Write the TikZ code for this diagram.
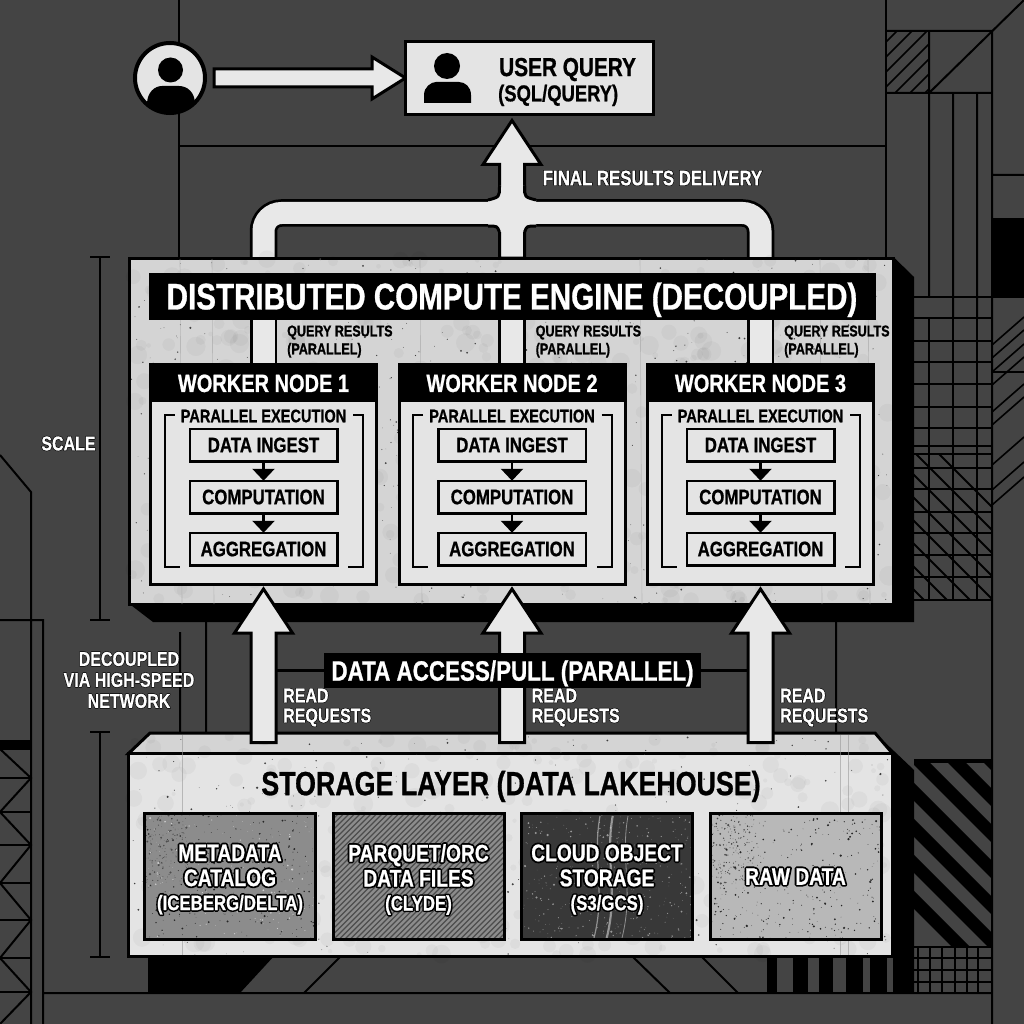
\documentclass[tikz,border=0pt]{standalone}
\usepackage{fontspec}
\setmainfont{Liberation Sans}[FakeStretch=0.8, BoldFeatures={FakeBold=0.8}]
\newfontface\rimthin{Liberation Sans Bold}[FakeStretch=0.8, FakeBold=7]
\newfontface\rimthick{Liberation Sans Bold}[FakeStretch=0.8, FakeBold=16]
\usetikzlibrary{positioning, calc, arrows.meta}

\definecolor{bggrey}{HTML}{444444}
\definecolor{concrete}{HTML}{D4D4D4}
\definecolor{paper}{HTML}{E4E4E4}
\definecolor{pipewhite}{HTML}{E8E8E8}

% text with a dark rim
\newcommand{\rimsmall}[1]{\leavevmode\pgfsetroundjoin\rlap{\rimthin\color{black}#1}#1}
\newcommand{\rimlarge}[1]{\leavevmode\pgfsetroundjoin\rlap{\rimthick\color{black}#1}#1}
\newcommand{\fs}[1]{\fontsize{#1}{#1}\selectfont\bfseries}

% random grit inside a box: x, y, w, h, count, colour
\newcommand{\speckle}[6]{%
  \foreach \k in {1,...,#5}{%
    \pgfmathsetmacro\sx{#1+rnd*#3}\pgfmathsetmacro\sy{#2+rnd*#4}\pgfmathsetmacro\sr{0.25+rnd*rnd*1.1}%
    \fill[#6] (\sx,\sy) circle (\sr pt);}}
% soft stains: x, y, w, h, count, colour
\newcommand{\stains}[6]{%
  \foreach \k in {1,...,#5}{%
    \pgfmathsetmacro\sx{#1+rnd*#3}\pgfmathsetmacro\sy{#2+rnd*#4}\pgfmathsetmacro\sr{2+rnd*8}%
    \fill[#6,opacity=.03] (\sx,\sy) circle (\sr pt);}}
% big upward arrow from one point to another
\newcommand{\fatup}[2]{%
  \draw[fatline] let \p1=(#1), \p2=(#2) in
    (\x1-12.5pt,\y1) -- (\x1-12.5pt,\y2-44pt) -- (\x1-29pt,\y2-44pt) -- (\x1,\y2)
    -- (\x1+29pt,\y2-44pt) -- (\x1+12.5pt,\y2-44pt) -- (\x1+12.5pt,\y1) -- cycle;}

\tikzset{
  bgline/.style={black, line width=2pt},
  fatline/.style={draw=black, fill=pipewhite, line width=3pt, line join=miter},
  pipeout/.style={black, line width=27.5pt, rounded corners=18pt},
  pipein/.style={pipewhite, line width=22pt, rounded corners=18pt},
  panel/.style={draw=black, fill=concrete, line width=3pt, inner sep=0pt, outer sep=0pt},
  blackbar/.style={fill=black, text=white, inner sep=0pt, outer sep=0pt, text depth=0pt},
  worker/.style={draw=black, fill=paper, line width=3pt, minimum width=226pt, minimum height=220pt, inner sep=0pt, outer sep=0pt},
  stepbox/.style={draw=black, line width=2.5pt, minimum width=147.5pt, minimum height=32.5pt, inner sep=0pt, outer sep=0pt, font=\fs{21}},
  steparrow/.style={black, line width=2.5pt, -{Triangle[width=22pt,length=12pt]}},
  darklabel/.style={text=white, font=\fs{20}, inner sep=0pt, align=left},
  resultlabel/.style={text=black, font=\fs{15.7}, inner sep=0pt, align=left, anchor=west},
  tile/.style={draw=black, line width=3pt, minimum width=171pt, minimum height=126pt, inner sep=0pt, outer sep=0pt},
  tiletext/.style={text=white, inner sep=0pt, align=center, font=\fs{24}},
}

\begin{document}
\begin{tikzpicture}[x=1pt, y=-1pt, node distance=22.5pt]
    \useasboundingbox (0,0) rectangle (1024,1024);
    \fill[bggrey] (0,0) rectangle (1024,1024);
    \pgfmathsetseed{4711}

    % Backdrop lines, top and right
    \draw[bgline] (179,0) -- (179,257) (179,146) -- (886,146) (886,0) -- (886,257);
    \draw[bgline] (886,31) -- (992,31) (886,93) -- (992,93) (992,31) -- (992,1024)
        (929,31) -- (929,297) (953,93) -- (953,318) (977,93) -- (977,318)
        (929,93) -- (1024,0) (992,175) -- (1024,175);
    \fill[black] (992,218) rectangle (1024,298);
    \begin{scope}
        \clip (886,31) rectangle (929,93);
        \foreach \c in {-60,-45,...,45}
            \draw[bgline, line width=1.6pt] (880+\c,93) -- (880+\c+64,29);
    \end{scope}
    % grid under the hatch
    \draw[bgline] (914,297) -- (992,297);
    \foreach \gy in {318,341,362,384,407,428,446,454,468,489,512,533,555,577,600}
        \draw[bgline] (914,\gy) -- (992,\gy);
    \foreach \gx in {929,953,977}
        \draw[bgline] (\gx,318) -- (\gx,600);
    \begin{scope}
        \clip (914,454) rectangle (992,600);
        \foreach \c in {-485,-462,...,-300}
            \draw[bgline] (900,900+\c) -- (1000,1000+\c);
    \end{scope}
    \begin{scope}
        \clip (992,300) rectangle (1024,510);
        \foreach \gy in {345,358,372,385,412,425,465,490,505}
            \draw[bgline, line width=1.6pt] (992,\gy) -- (1024,\gy-28);
        \draw[bgline, line width=1.2pt] (992,372) -- (1024,372);
    \end{scope}

    % Backdrop lines, left and bottom
    \draw[bgline] (0,455) -- (31,492) -- (31,1024) (0,620) -- (43,620) -- (43,1024)
        (180,632) -- (180,733) (206,622) -- (206,733) (836,622) -- (836,733)
        (43,993) -- (992,993) (340,957) -- (304,993) (633,957) -- (670,993) (702,957) -- (738,993);
    \fill[black] (0,740) rectangle (31,749);
    \foreach \yb in {749,778,812,845,883,920,958,992}
        \draw[bgline] (0,\yb) -- (31,\yb);
    \draw[bgline] (0,749) -- (31,778) -- (0,812) -- (31,845) -- (0,883) -- (31,920) -- (0,958) -- (31,992) -- (0,1024);
    \fill[black] (148,955) -- (275,955) -- (240,993) -- (148,993) -- cycle;
    \foreach \ba/\bb in {767/777,793/808,819/833,846/863,870/887}
        \fill[black] (\ba,955) rectangle (\bb,993);

    % Striped corner at the bottom right
    \begin{scope}
        \clip (914,761) rectangle (991,947);
        \foreach \c in {-239,-203,...,-23}
            \fill[black] (900,900+\c) -- (1000,1000+\c) -- (1000,1018+\c) -- (900,918+\c) -- cycle;
    \end{scope}
    \draw[black, line width=4pt] (914,761) -- (992,761);
    \foreach \gx in {918,930,942,955,967,978}
        \draw[bgline, line width=1.6pt] (\gx,947) -- (\gx,993);
    \foreach \gy in {947,958,970,982}
        \draw[bgline, line width=1.6pt] (914,\gy) -- (992,\gy);

    % Scale bars
    \draw[black, line width=2.5pt] (90,257) -- (110,257) (100,257) -- (100,620) (90,620) -- (110,620);
    \draw[black, line width=2.5pt] (90,732) -- (110,732) (100,732) -- (100,957) (90,957) -- (110,957);
    \node[darklabel] (scale) at (68.5,443.5) {\rimsmall{SCALE}};
    \node[darklabel, align=center] (netnote) at (129,680)
        {\rimsmall{DECOUPLED}\\[1pt]\rimsmall{VIA HIGH-SPEED}\\[1pt]\rimsmall{NETWORK}};

    % Nodes
    \node[panel, minimum width=764pt, minimum height=346pt] (engine) at (511.5,431) {};
    \coordinate (bus) at (512,213);
    \node[worker] (wk1) at (263.5,474.5) {};
    \node[worker, right=of wk1] (wk2) {};
    \node[worker, right=of wk2] (wk3) {};
    \node[draw=black, fill=paper, line width=3pt, minimum width=248pt, minimum height=73pt, inner sep=0pt, outer sep=0pt] (query) at (529.5,78) {};

    % Shadow of the compute panel
    \fill[black] (engine.north east) ++(0,-1) -- (914,277) -- (914,622) -- (153,622) -- (engine.south west) -- cycle;

    % Results going up
    \draw[pipeout] (wk1.north |- engine.north) -- (wk1.north |- bus) -- (wk3.north |- bus) -- (wk3.north |- engine.north);
    \fatup{wk2.north |- engine.north}{$(query.south)+(-17,6)$}
    \draw[pipein] (wk1.north |- engine.north) -- (wk1.north |- bus) -- (wk3.north |- bus) -- (wk3.north |- engine.north);
    \foreach \sx in {-1,1}{
        \fill[pipewhite] ({512+\sx*12.5},186) .. controls ({512+\sx*12.5},197) .. ({512+\sx*24},200) -- ({512+\sx*24},226) .. controls ({512+\sx*15},226) .. ({512+\sx*12.5},232) -- (512,232) -- (512,186) -- cycle;
        \draw[black, line width=3pt] ({512+\sx*12.5},186) .. controls ({512+\sx*12.5},197) .. ({512+\sx*24},200);
        \draw[black, line width=3pt] ({512+\sx*24},226) .. controls ({512+\sx*15},226) .. ({512+\sx*12.5},232);
    }

    % Compute panel on top
    \node[panel, minimum width=764pt, minimum height=346pt] at (engine) {};
    \stains{130}{259}{760}{344}{500}{black}
    \speckle{130}{259}{760}{344}{600}{black!75}
    \foreach \sx in {180,212,420,640,820,868}
        \draw[black!35, line width=.6pt, opacity=.6] (\sx,259) -- (\sx+2,604);
    \node[blackbar, minimum width=727pt, minimum height=47pt, font=\fs{37}] (title) at (512,296) {DISTRIBUTED COMPUTE ENGINE (DECOUPLED)};

    \foreach \i in {1,2,3}{
        \draw[pipeout, rounded corners=0pt] (wk\i.north) -- (wk\i.north |- title.south);
        \draw[pipein, rounded corners=0pt] (wk\i.north) -- (wk\i.north |- title.south);
        \node[resultlabel] (qres\i) at ($(wk\i.north)+(23.5,-32)$) {QUERY RESULTS};
        \node[resultlabel, below=3pt of qres\i.south west, anchor=north west] (qpar\i) {(PARALLEL)};
    }

    % Workers
    \foreach \i in {1,2,3}{
        \node[worker] (wkb\i) at (wk\i) {};
        \node[blackbar, anchor=north, minimum width=229pt, minimum height=39pt, font=\fs{25}, yshift=1.5pt] (wkh\i) at (wk\i.north) {\raisebox{-1.5pt}{WORKER NODE \i}};
        \begin{scope}[shift={(wk\i.center)}]
            \draw[black, line width=2pt] (-89,-59.5) -- (-99,-59.5) -- (-99,92.5) -- (-84,92.5);
            \draw[black, line width=2pt] (89.5,-59.5) -- (99.5,-59.5) -- (99.5,92.5) -- (84.5,92.5);
            \node[font=\fs{18.2}, inner sep=0pt] (pe\i) at (0,-58.5) {PARALLEL EXECUTION};
        \end{scope}
        \node[stepbox] (ingest\i) at ($(wk\i.center)+(0,-29.5)$) {DATA INGEST};
        \node[stepbox, below=19.5pt of ingest\i] (comp\i) {COMPUTATION};
        \node[stepbox, below=19.5pt of comp\i] (aggr\i) {AGGREGATION};
        \draw[steparrow] (ingest\i) -- (comp\i);
        \draw[steparrow] (comp\i) -- (aggr\i);
    }

    % Storage layer
    \node[panel, minimum width=764pt, minimum height=203pt] (stor) at (510.5,855) {};
    \fill[black] (875,733) -- (914,770) -- (914,993) -- (893,993) -- (893,753) -- cycle;
    \draw[panel] (stor.north west) -- (150,733) -- (875,733) -- (stor.north east) -- cycle;
    \node[panel, minimum width=764pt, minimum height=203pt, fill=paper] at (stor) {};
    \stains{130}{735}{760}{220}{300}{black}
    \speckle{130}{735}{760}{220}{300}{black!75}
    \foreach \sx in {182,840,848}
        \draw[black!40, line width=.6pt, opacity=.6] (\sx,735) -- (\sx,955);
    \node[font=\fs{33.5}, inner sep=0pt, text depth=0pt] (stitle) at (511,783) {STORAGE LAYER (DATA LAKEHOUSE)};

    \node[tile, fill=black!45] (tmeta) at (230,876.5) {};
    \node[tile, fill=black!45, right=17.5pt of tmeta] (tparq) {};
    \node[tile, fill=black!78, right=17.5pt of tparq] (tcloud) {};
    \node[tile, fill=black!28, right=17.5pt of tcloud] (traw) {};

    \begin{scope}
        \clip (tmeta.south west) rectangle (tmeta.north east);
        \speckle{145}{814}{45}{70}{160}{black!70}
        \speckle{145}{814}{170}{125}{260}{black!85}
        \speckle{145}{814}{170}{125}{160}{white!80!black}
    \end{scope}
    \begin{scope}
        \clip (tparq.south west) rectangle (tparq.north east);
        \foreach \c in {200,205.5,...,510}
            \draw[black!70, line width=1.3pt] (\c,941) -- (\c+130,811);
    \end{scope}
    \begin{scope}
        \clip (tcloud.south west) rectangle (tcloud.north east);
        \speckle{521}{814}{172}{125}{400}{white!60!black}
        \foreach \sx/\sw in {613/1.6,600/1.2,628/.8,612/.8}
            \draw[white!85!black, line width=\sw pt, opacity=.55] (\sx,816) .. controls (\sx-8,860) and (\sx+6,890) .. (\sx-6,938);
    \end{scope}
    \begin{scope}
        \clip (traw.south west) rectangle (traw.north east);
        \speckle{709}{814}{45}{70}{160}{black!70}
        \speckle{709}{814}{172}{125}{340}{black!85}
    \end{scope}
    \draw[black, line width=3pt] (tmeta.south west) rectangle (tmeta.north east) (tparq.south west) rectangle (tparq.north east)
        (tcloud.south west) rectangle (tcloud.north east) (traw.south west) rectangle (traw.north east);

    \node[tiletext, yshift=-3pt] (tmetaa) at (tmeta) {\rimlarge{METADATA}\\[1pt]\rimlarge{CATALOG}\\[0pt]\fs{21}\rimlarge{(ICEBERG/DELTA)}};
    \node[tiletext, yshift=-3pt] (tparqa) at (tparq) {\rimlarge{PARQUET/ORC}\\[1pt]\rimlarge{DATA FILES}\\[0pt]\fs{21}\rimlarge{(CLYDE)}};
    \node[tiletext, yshift=-3pt] (tclouda) at (tcloud) {\rimlarge{CLOUD OBJECT}\\[1pt]\rimlarge{STORAGE}\\[0pt]\fs{21}\rimlarge{(S3/GCS)}};
    \node[tiletext] (trawa) at (traw) {\rimlarge{RAW DATA}};

    % Reading from storage
    \coordinate (pullc) at (512.5,670.5);
    \draw[black, line width=2.5pt] (wk1.south |- pullc) -- (wk3.south |- pullc);
    \foreach \i in {1,2,3}{
        \fatup{$(wk\i.south |- stor.north)+(0,-11)$}{$(wk\i.south)+(0,4.5)$}
        \node[darklabel, anchor=north west] (rr\i) at ($(wk\i.south |- pullc)+(19.5,18)$) {\rimsmall{READ}\\\rimsmall{REQUESTS}};
    }
    \node[blackbar, minimum width=377pt, minimum height=35pt, font=\fs{28}] (pull) at (pullc) {DATA ACCESS/PULL (PARALLEL)};

    % User side
    \node[darklabel, font=\fs{21}] (final) at (652.5,178) {\rimsmall{FINAL RESULTS DELIVERY}};
    \node[draw=black, fill=paper, line width=4pt, circle, minimum size=70pt, inner sep=0pt, outer sep=0pt] (avatar) at (170,78) {};
    \begin{scope}
        \clip (avatar) circle (35pt);
        \fill[black] (158,120) -- (147,120) -- (147,104) .. controls (147,92) and (155,86) .. (162,86) -- (179,86) .. controls (187,86) and (195,92) .. (195,104) -- (195,120) -- cycle;
    \end{scope}
    \fill[black] (170.5,70) circle (12.5pt);
    \draw[fatline] (avatar.east) ++(9,-9) -- (372,69) -- (372,57) -- (query.west) -- (372,99) -- (372,87) -- ($(avatar.east)+(9,9)$) -- cycle;
    \node[draw=black, fill=paper, line width=3pt, minimum width=248pt, minimum height=73pt, inner sep=0pt, outer sep=0pt] at (query) {};
    \fill[black] (447,66) circle (13pt);
    \fill[black] (424,103) -- (424,95) .. controls (424,87) and (431,82) .. (436,82) -- (459,82) .. controls (465,82) and (471,87) .. (471,95) -- (471,103) -- cycle;
    \node[font=\fs{26}, inner sep=0pt, anchor=west, text depth=0pt] (qhead) at (499,67) {USER QUERY};
    \node[font=\fs{23}, inner sep=0pt, anchor=west, text depth=0pt] (qsub) at (498,93) {(SQL/QUERY)};
\end{tikzpicture}
\end{document}
